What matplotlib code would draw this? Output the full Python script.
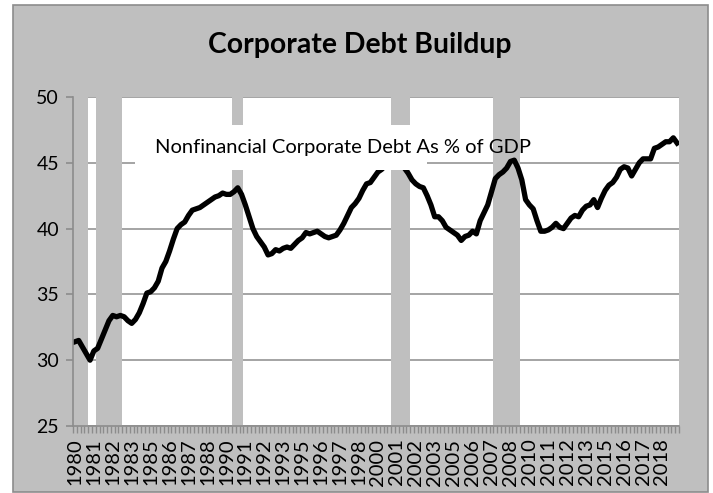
import numpy as np
import matplotlib
matplotlib.use('Agg')
import matplotlib.pyplot as plt
from matplotlib.patches import Rectangle

# quarterly data, 1980Q1 - 2019Q4
years = list(range(1980, 2020))
debt_pct_gdp = [
    31.4, 31.5, 31.0, 30.5,   # 1980
    30.0, 30.7, 30.9, 31.6,   # 1981
    32.3, 33.0, 33.4, 33.3,   # 1982
    33.4, 33.3, 33.0, 32.8,   # 1983
    33.1, 33.6, 34.3, 35.1,   # 1984
    35.2, 35.5, 36.0, 37.0,   # 1985
    37.5, 38.3, 39.2, 40.0,   # 1986
    40.3, 40.5, 41.0, 41.4,   # 1987
    41.5, 41.6, 41.8, 42.0,   # 1988
    42.2, 42.4, 42.5, 42.7,   # 1989
    42.6, 42.6, 42.8, 43.1,   # 1990
    42.6, 41.8, 40.9, 40.0,   # 1991
    39.4, 39.0, 38.6, 38.0,   # 1992
    38.1, 38.4, 38.3, 38.5,   # 1993
    38.6, 38.5, 38.8, 39.1,   # 1994
    39.3, 39.7, 39.6, 39.7,   # 1995
    39.8, 39.6, 39.4, 39.3,   # 1996
    39.4, 39.5, 39.9, 40.4,   # 1997
    41.0, 41.6, 41.9, 42.3,   # 1998
    42.9, 43.4, 43.5, 43.9,   # 1999
    44.3, 44.5, 44.8, 44.9,   # 2000
    45.0, 45.1, 44.9, 44.6,   # 2001
    44.2, 43.7, 43.4, 43.2,   # 2002
    43.1, 42.5, 41.8, 40.9,   # 2003
    40.9, 40.6, 40.1, 39.9,   # 2004
    39.7, 39.5, 39.1, 39.4,   # 2005
    39.5, 39.8, 39.6, 40.6,   # 2006
    41.2, 41.8, 42.8, 43.8,   # 2007
    44.1, 44.3, 44.6, 45.1,   # 2008
    45.2, 44.6, 43.7, 42.2,   # 2009
    41.8, 41.5, 40.6, 39.8,   # 2010
    39.8, 39.9, 40.1, 40.4,   # 2011
    40.1, 40.0, 40.4, 40.8,   # 2012
    41.0, 40.9, 41.4, 41.7,   # 2013
    41.8, 42.2, 41.6, 42.3,   # 2014
    42.9, 43.3, 43.5, 43.9,   # 2015
    44.5, 44.7, 44.6, 44.0,   # 2016
    44.5, 45.0, 45.3, 45.3,   # 2017
    45.3, 46.1, 46.2, 46.4,   # 2018
    46.6, 46.6, 46.9, 46.5,   # 2019
]

# recession shading (first and last quarter)
rec_start = ['1980Q1', '1981Q3', '1990Q3', '2001Q1', '2007Q4']
rec_end = ['1980Q4', '1983Q1', '1991Q1', '2002Q1', '2009Q2']

quarters = [f'{y}Q{q}' for y in years for q in range(1, 5)]
n = len(quarters)
x = np.arange(n)

rec = np.zeros(n)
for s, e in zip(rec_start, rec_end):
    rec[quarters.index(s):quarters.index(e) + 1] = 1

# excel style category labels: every 5th quarter, year only
lab_pos = x[::5]
lab_txt = [quarters[i][:4] for i in lab_pos]

GRAY = '#bfbfbf'
LINE_GRAY = '#8c8c8c'
FONT = 'Lato'

fig = plt.figure(figsize=(7.13, 4.93), dpi=100)
fig.patch.set_facecolor('white')
bg = Rectangle((13 / 713, 1 - 492 / 493), 695 / 713, 487 / 493,
               transform=fig.transFigure, facecolor=GRAY,
               edgecolor=LINE_GRAY, linewidth=1.2, zorder=-5)
fig.add_artist(bg)

ax = fig.add_axes([73 / 713, 67 / 493, 606 / 713, 329 / 493], zorder=2)
ax.set_facecolor('white')

# recession bars
ax.bar(x, rec * 25, bottom=25, width=1.0, color=GRAY, linewidth=0, zorder=2)
ax.plot(x, debt_pct_gdp, color='black', linewidth=3.8, solid_joinstyle='round', zorder=3)

ax.set_ylim(25, 50)
ax.set_xlim(-0.5, n - 0.5)
ax.set_yticks(range(25, 51, 5))
ax.yaxis.grid(True, color=LINE_GRAY, linewidth=1.1, zorder=1)
ax.set_axisbelow(True)

for side in ['top', 'right']:
    ax.spines[side].set_visible(False)
for side in ['left', 'bottom']:
    ax.spines[side].set_color(LINE_GRAY)
    ax.spines[side].set_linewidth(1.2)
    ax.spines[side].set_zorder(4)

ax.set_xticks(lab_pos)
ax.set_xticklabels(lab_txt, rotation=90, fontsize=14.5, family=FONT)
ax.set_xticks(np.arange(n + 1) - 0.5, minor=True)
ax.tick_params(axis='x', which='major', length=0, pad=9)
ax.tick_params(axis='x', which='minor', length=5, color=LINE_GRAY, width=1)
ax.tick_params(axis='y', length=5, color=LINE_GRAY, width=1.2, pad=5, labelsize=14)
for t in ax.get_yticklabels():
    t.set_family(FONT)

# white text box covering part of the chart, text overflows it
ax.add_patch(Rectangle((0.102, 0.778), 0.482, 0.137, transform=ax.transAxes,
                       facecolor='white', edgecolor='none', zorder=5))
ax.text(0.135, 0.848, 'Nonfinancial Corporate Debt As % of GDP', transform=ax.transAxes,
        fontsize=14.5, family=FONT, va='center', ha='left', zorder=6)

fig.text(360 / 713, 1 - 45 / 493, 'Corporate Debt Buildup', ha='center', va='center',
         fontsize=20.4, fontweight='bold', family=FONT)

fig.savefig('out.png', dpi=100)
